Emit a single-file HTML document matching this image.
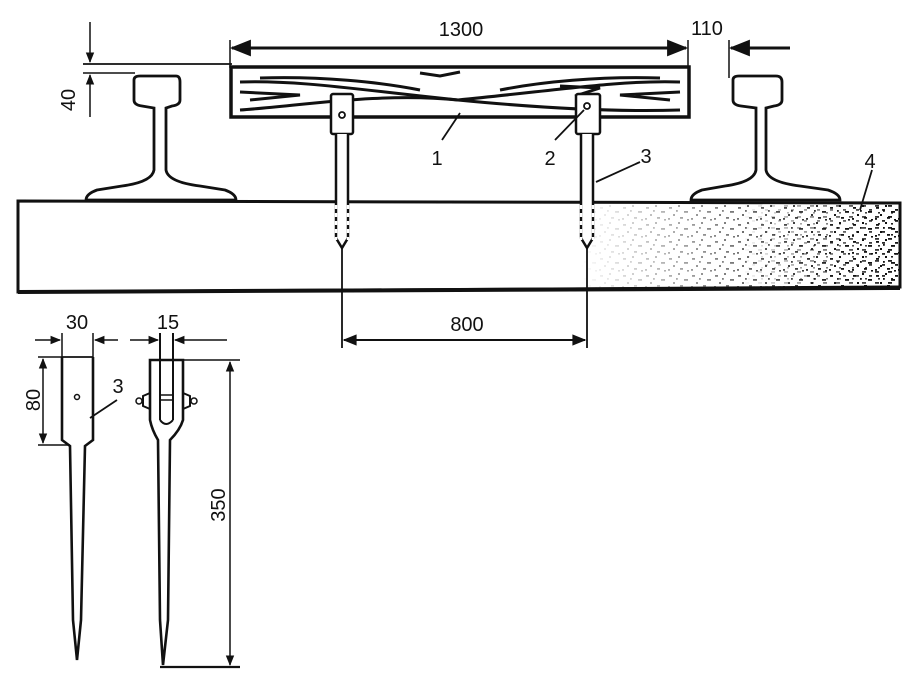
<!DOCTYPE html>
<html><head><meta charset="utf-8"><style>
html,body{margin:0;padding:0;background:#fff;}
svg{display:block;}
text{font-family:"Liberation Sans",sans-serif;fill:#111;}
</style></head><body>
<svg width="910" height="683" viewBox="0 0 910 683" xmlns="http://www.w3.org/2000/svg">
<defs>
<marker id="a" viewBox="0 0 10 10" refX="9" refY="5" markerWidth="9" markerHeight="7" orient="auto-start-reverse"><path d="M0,1 L10,5 L0,9 Z" fill="#111"/></marker>
<pattern id="p1" x="0" y="0" width="23" height="17" patternUnits="userSpaceOnUse">
<rect x="2" y="3" width="3" height="1.8" fill="#111"/>
<rect x="11" y="1" width="2" height="2" fill="#111"/>
<rect x="17" y="7" width="4" height="1.8" fill="#111"/>
<rect x="6" y="10" width="2" height="2" fill="#111"/>
<rect x="13" y="13" width="3" height="1.8" fill="#111"/>
<rect x="1" y="14" width="2" height="1.8" fill="#111"/>
<rect x="20" y="15" width="2" height="1.6" fill="#111"/>
<rect x="9" y="6" width="1.8" height="1.8" fill="#111"/>
</pattern>
<pattern id="p2" x="3" y="5" width="13" height="11" patternUnits="userSpaceOnUse">
<rect x="1" y="2" width="4" height="1.8" fill="#111"/>
<rect x="8" y="6" width="3" height="1.8" fill="#111"/>
<rect x="4" y="9" width="2" height="1.6" fill="#111"/>
</pattern>
<linearGradient id="g1" x1="580" y1="0" x2="850" y2="0" gradientUnits="userSpaceOnUse">
<stop offset="0" stop-color="#000"/><stop offset="1" stop-color="#fff"/></linearGradient>
<linearGradient id="g2" x1="740" y1="0" x2="900" y2="0" gradientUnits="userSpaceOnUse">
<stop offset="0" stop-color="#000"/><stop offset="1" stop-color="#fff"/></linearGradient>
<mask id="m1"><rect x="0" y="0" width="910" height="683" fill="url(#g1)"/></mask>
<mask id="m2"><rect x="0" y="0" width="910" height="683" fill="url(#g2)"/></mask>
</defs>
<rect x="560" y="204" width="340" height="84" fill="url(#p1)" mask="url(#m1)"/>
<rect x="720" y="204" width="180" height="84" fill="url(#p2)" mask="url(#m2)"/>
<g stroke="#111" fill="none" stroke-width="2">
<line x1="232" y1="48" x2="686" y2="48" stroke-width="3" marker-start="url(#a)" marker-end="url(#a)"/>
<line x1="790" y1="48" x2="731" y2="48" stroke-width="3" marker-end="url(#a)"/>
<line x1="230" y1="40" x2="230" y2="68" stroke-width="1.5"/>
<line x1="688" y1="40" x2="688" y2="68" stroke-width="1.5"/>
<line x1="729" y1="40" x2="729" y2="78" stroke-width="1.5"/>
<line x1="90" y1="22" x2="90" y2="62" stroke-width="1.5" marker-end="url(#a)"/>
<line x1="90" y1="117" x2="90" y2="75" stroke-width="1.5" marker-end="url(#a)"/>
<line x1="83" y1="64" x2="232" y2="64" stroke-width="1.8"/>
<line x1="83" y1="73" x2="135" y2="73" stroke-width="1.5"/>
<rect x="231" y="67" width="458" height="50" stroke-width="3.5"/>
<g stroke-width="3">
<path d="M240,82 C300,80 360,90 458,100 C560,90 620,80 680,82"/>
<path d="M240,110 C300,106 380,92 458,100 C540,108 620,112 680,110"/>
<path d="M240,92 L300,95 L250,100"/>
<path d="M680,92 L620,95 L670,100"/>
<path d="M420,73 L440,76 L460,72"/>
<path d="M560,86 L600,88 L575,96"/>
<path d="M260,78 C320,76 380,82 420,90"/>
<path d="M660,78 C600,76 540,82 500,90"/>
</g>
<g stroke-width="2.8" fill="#fff">
<path d="M134,80 Q134,76 140,76 L176,76 Q180,76 180,82 L180,100 Q180,105 172,106 L166,108 L166,170 Q168,182 200,186 L225,190 Q236,194 236,200 L86,200 Q86,194 97,190 L122,186 Q152,182 154,170 L154,108 L142,106 Q134,105 134,100 Z"/>
<path d="M733,80 Q733,76 739,76 L776,76 Q782,76 782,82 L782,100 Q782,105 774,106 L766,108 L766,170 Q768,182 800,186 L828,190 Q840,194 840,200 L691,200 Q691,194 702,190 L725,186 Q754,182 756,170 L756,108 L741,106 Q733,105 733,100 Z"/>
</g>
<path d="M18,201 L900,203 L900,287 L18,292 Z" stroke-width="3"/>
<line x1="18" y1="292" x2="900" y2="288" stroke-width="4"/>
<g fill="#fff" stroke-width="2.5">
<rect x="331" y="94" width="22" height="40" rx="2"/>
<path d="M336,134 L336,238 L342,248 L348,238 L348,134"/>
<rect x="576" y="94" width="24" height="40" rx="2"/>
<path d="M581,134 L581,238 L587,248 L593,238 L593,134"/>
</g>
<circle cx="342" cy="115" r="3" stroke-width="1.8"/>
<circle cx="587" cy="106" r="3" stroke-width="1.8"/>
<g stroke="#fff" stroke-width="2.5" stroke-dasharray="4 4">
<line x1="336" y1="205" x2="336" y2="240"/><line x1="348" y1="205" x2="348" y2="240"/>
<line x1="581" y1="205" x2="581" y2="240"/><line x1="593" y1="205" x2="593" y2="240"/>
</g>
<line x1="342" y1="248" x2="342" y2="348" stroke-width="1.8"/>
<line x1="587" y1="248" x2="587" y2="348" stroke-width="1.8"/>
<line x1="344" y1="340" x2="585" y2="340" stroke-width="2" marker-start="url(#a)" marker-end="url(#a)"/>
<g stroke-width="1.8">
<line x1="442" y1="140" x2="460" y2="113"/>
<line x1="555" y1="140" x2="584" y2="110"/>
<line x1="640" y1="162" x2="596" y2="182"/>
<line x1="872" y1="170" x2="860" y2="210"/>
<line x1="90" y1="418" x2="117" y2="400"/>
</g>
<line x1="35" y1="340" x2="60" y2="340" stroke-width="1.5" marker-end="url(#a)"/>
<line x1="118" y1="340" x2="95" y2="340" stroke-width="1.5" marker-end="url(#a)"/>
<line x1="62" y1="333" x2="62" y2="357" stroke-width="1.5"/>
<line x1="93" y1="333" x2="93" y2="357" stroke-width="1.5"/>
<line x1="62" y1="357" x2="93" y2="357" stroke-width="1.8"/>
<path d="M62,357 L62,440 L70,446 L73,620 L77,660 L81,620 L85,446 L93,440 L93,357" stroke-width="2.6"/>
<circle cx="77" cy="397" r="2.5" stroke-width="1.5"/>
<line x1="43" y1="359" x2="43" y2="443" stroke-width="1.5" marker-start="url(#a)" marker-end="url(#a)"/>
<line x1="38" y1="357" x2="62" y2="357" stroke-width="1.5"/>
<line x1="38" y1="445" x2="70" y2="445" stroke-width="1.5"/>
<line x1="130" y1="340" x2="158" y2="340" stroke-width="1.5" marker-end="url(#a)"/>
<line x1="227" y1="340" x2="175" y2="340" stroke-width="1.5" marker-end="url(#a)"/>
<line x1="160" y1="333" x2="160" y2="420" stroke-width="2"/>
<line x1="173" y1="333" x2="173" y2="420" stroke-width="2"/>
<path d="M160,420 Q166,428 173,420" stroke-width="2"/>
<path d="M183,360 L150,360 L150,420 Q152,430 158,440 L160,620 L163,665 L168,620 L170,440 Q180,430 183,420 Z" stroke-width="2.6"/>
<line x1="160" y1="395" x2="173" y2="395" stroke-width="1.5"/>
<line x1="160" y1="400" x2="173" y2="400" stroke-width="1.5"/>
<path d="M150,393 L143,396 L143,406 L150,409" stroke-width="2"/>
<path d="M183,393 L190,396 L190,406 L183,409" stroke-width="2"/>
<circle cx="139" cy="401" r="3" stroke-width="1.5"/>
<circle cx="194" cy="401" r="3" stroke-width="1.5"/>
<line x1="183" y1="360" x2="240" y2="360" stroke-width="1.5"/>
<line x1="160" y1="667" x2="240" y2="667" stroke-width="2.2"/>
<line x1="230" y1="362" x2="230" y2="665" stroke-width="1.5" marker-start="url(#a)" marker-end="url(#a)"/>
</g>
<g font-size="20">
<text x="461" y="36" text-anchor="middle">1300</text>
<text x="707" y="35" text-anchor="middle">110</text>
<text x="467" y="331" text-anchor="middle">800</text>
<text x="77" y="329" text-anchor="middle">30</text>
<text x="168" y="329" text-anchor="middle">15</text>
<text x="437" y="165" text-anchor="middle">1</text>
<text x="550" y="165" text-anchor="middle">2</text>
<text x="646" y="163" text-anchor="middle">3</text>
<text x="870" y="168" text-anchor="middle">4</text>
<text x="118" y="393" text-anchor="middle">3</text>
<text transform="translate(75,100) rotate(-90)" text-anchor="middle">40</text>
<text transform="translate(40,400) rotate(-90)" text-anchor="middle">80</text>
<text transform="translate(225,505) rotate(-90)" text-anchor="middle">350</text>
</g>
</svg>
</body></html>
